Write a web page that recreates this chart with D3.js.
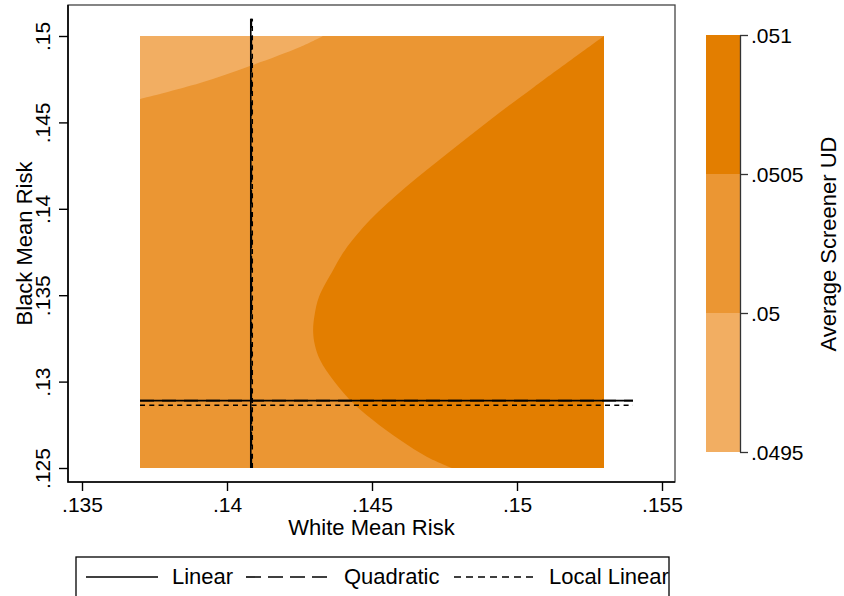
<!DOCTYPE html>
<html>
<head>
<meta charset="utf-8">
<script src="https://cdn.jsdelivr.net/npm/d3@7"></script>
<style>
  html, body { margin: 0; padding: 0; background: #fff; }
  svg { display: block; font-family: "Liberation Sans", Arial, sans-serif; }
</style>
</head>
<body>
<svg id="chart" width="844" height="596"></svg>
<script>
// ---------------- data ----------------
const xTicks = [0.135, 0.14, 0.145, 0.15, 0.155];
const yTicks = [0.125, 0.13, 0.135, 0.14, 0.145, 0.15];
const levelTicks = [0.0495, 0.05, 0.0505, 0.051];
const levelColors = ["#F2AE62", "#EB9633", "#E37E00"];   // .0495-.05, .05-.0505, .0505-.051

// grid extent of the contour surface
const gridWhite = [0.137, 0.153];
const gridBlack = [0.125, 0.15];

// contour boundary .05 (light / middle) [white, black]
const boundary050 = [
  [0.13700, 0.14635], [0.13907, 0.14728], [0.14079, 0.14826],
  [0.14252, 0.14936], [0.14331, 0.15000]
];
// contour boundary .0505 (middle / dark) [white, black]
const boundary0505 = [
  [0.15300, 0.15000], [0.15059, 0.14705], [0.14907, 0.14514],
  [0.14762, 0.14323], [0.14617, 0.14126], [0.14493, 0.13935],
  [0.14407, 0.13762], [0.14366, 0.13646], [0.14317, 0.13490],
  [0.14302, 0.13385], [0.14297, 0.13293], [0.14303, 0.13212],
  [0.14321, 0.13125], [0.14366, 0.13009], [0.14424, 0.12894],
  [0.14503, 0.12778], [0.14597, 0.12662], [0.14690, 0.12564],
  [0.14776, 0.12500]
];

// threshold lines
const lineNames = ["Linear", "Quadratic", "Local Linear"];
const lineWhite = [0.14082, 0.14084, 0.14087];
const lineBlack = [0.12890, 0.12890, 0.12863];
const vertExtent = [0.125, 0.151];
const horzExtent = [0.137, 0.154];
const lineDash = [null, "14,8", "5,4.3"];
const legendDash = [null, "15,7", "7,5"];

// ---------------- chart ----------------
const svg = d3.select("#chart");
const x = d3.scaleLinear().domain([0.135, 0.155]).range([82, 662]);
const y = d3.scaleLinear().domain([0.125, 0.15]).range([468, 36]);
const cz = d3.scaleLinear().domain([0.0495, 0.051]).range([452, 35]);
const fmt = v => String(+v.toFixed(5)).replace(/^0\./, ".");

const frame = { l: 68, t: 5, r: 675, b: 482 };

// contour fills
const plot = svg.append("g");
plot.append("rect")
  .attr("x", x(gridWhite[0])).attr("y", y(gridBlack[1]))
  .attr("width", x(gridWhite[1]) - x(gridWhite[0]))
  .attr("height", y(gridBlack[0]) - y(gridBlack[1]))
  .attr("fill", levelColors[1]);

const curveLine = d3.line().x(d => x(d[0])).y(d => y(d[1])).curve(d3.curveCatmullRom.alpha(0.5));

// light region: top-left corner + smooth boundary
const lightPath = `M${x(gridWhite[0])},${y(gridBlack[1])}L` +
  curveLine(boundary050).slice(1) + "Z";
plot.append("path").attr("d", lightPath).attr("fill", levelColors[0]);

// dark region: smooth boundary + bottom-right corner
const darkPath = curveLine(boundary0505) +
  `L${x(gridWhite[1])},${y(gridBlack[0])}Z`;
plot.append("path").attr("d", darkPath).attr("fill", levelColors[2]);

// threshold lines
lineNames.forEach((n, i) => {
  const g = plot.append("g")
    .attr("stroke", "#000").attr("stroke-width", 1.6).attr("fill", "none");
  if (lineDash[i]) g.attr("stroke-dasharray", lineDash[i]);
  g.append("line")
    .attr("x1", x(lineWhite[i])).attr("x2", x(lineWhite[i]))
    .attr("y1", y(vertExtent[0])).attr("y2", y(vertExtent[1]));
  g.append("line")
    .attr("x1", x(horzExtent[0])).attr("x2", x(horzExtent[1]))
    .attr("y1", y(lineBlack[i])).attr("y2", y(lineBlack[i]));
});

// frame
svg.append("rect")
  .attr("x", frame.l).attr("y", frame.t)
  .attr("width", frame.r - frame.l).attr("height", frame.b - frame.t)
  .attr("fill", "none").attr("stroke", "#444").attr("stroke-width", 1.3);
svg.append("path")
  .attr("d", `M${frame.l},${frame.t}V${frame.b}H${frame.r}`)
  .attr("fill", "none").attr("stroke", "#000").attr("stroke-width", 1.6);

// x axis
const xAxis = svg.append("g").attr("transform", `translate(0,${frame.b})`)
  .call(d3.axisBottom(x).tickValues(xTicks).tickFormat(fmt).tickSize(9).tickSizeOuter(0));
xAxis.select(".domain").remove();
xAxis.selectAll(".tick line").attr("stroke", "#000").attr("stroke-width", 1.4);
xAxis.selectAll(".tick text")
  .attr("y", 0).attr("dy", null)
  .attr("transform", "translate(0,29.5)")
  .attr("font-size", 21).attr("font-family", "Liberation Sans, Arial, sans-serif")
  .attr("fill", "#000");

// y axis
const yAxis = svg.append("g").attr("transform", `translate(${frame.l},0)`)
  .call(d3.axisLeft(y).tickValues(yTicks).tickFormat(fmt).tickSize(9).tickSizeOuter(0));
yAxis.select(".domain").remove();
yAxis.selectAll(".tick line").attr("stroke", "#000").attr("stroke-width", 1.4);
yAxis.selectAll(".tick text")
  .attr("x", 0).attr("dy", null)
  .attr("text-anchor", "middle")
  .attr("transform", "translate(-18,0) rotate(-90)")
  .attr("font-size", 21).attr("font-family", "Liberation Sans, Arial, sans-serif")
  .attr("fill", "#000");

// axis titles
svg.append("text")
  .attr("x", (frame.l + frame.r) / 2).attr("y", 535)
  .attr("text-anchor", "middle").attr("font-size", 22).attr("fill", "#000")
  .text("White Mean Risk");
svg.append("text")
  .attr("transform", `translate(31.5,${(frame.t + frame.b) / 2}) rotate(-90)`)
  .attr("text-anchor", "middle").attr("font-size", 22).attr("fill", "#000")
  .text("Black Mean Risk");

// colour bar
const cb = svg.append("g");
levelColors.forEach((c, i) => {
  cb.append("rect")
    .attr("x", 706).attr("width", 34)
    .attr("y", cz(levelTicks[i + 1])).attr("height", cz(levelTicks[i]) - cz(levelTicks[i + 1]))
    .attr("fill", c);
});
const cAxis = cb.append("g").attr("transform", "translate(740,0)")
  .call(d3.axisRight(cz).tickValues(levelTicks).tickFormat(fmt).tickSize(8).tickSizeOuter(0));
cAxis.select(".domain").attr("stroke", "#333").attr("stroke-width", 1.3);
cAxis.selectAll(".tick line").attr("stroke", "#333").attr("stroke-width", 1.3);
cAxis.selectAll(".tick text")
  .attr("x", 11).attr("dy", "0.35em")
  .attr("font-size", 21).attr("font-family", "Liberation Sans, Arial, sans-serif")
  .attr("fill", "#000");
svg.append("text")
  .attr("transform", `translate(836,244) rotate(-90)`)
  .attr("text-anchor", "middle").attr("font-size", 22).attr("fill", "#000")
  .text("Average Screener UD");

// legend
const lg = svg.append("g");
lg.append("rect")
  .attr("x", 76).attr("y", 557).attr("width", 593).attr("height", 60)
  .attr("fill", "#fff").attr("stroke", "#000").attr("stroke-width", 1.3);
const legendLineX = [86, 246, 454];
const legendLineW = [72, 88, 84];
const legendTextX = [172, 344, 549];
lineNames.forEach((n, i) => {
  const l = lg.append("line")
    .attr("x1", legendLineX[i]).attr("x2", legendLineX[i] + legendLineW[i])
    .attr("y1", 577).attr("y2", 577)
    .attr("stroke", "#000").attr("stroke-width", 1.6);
  if (legendDash[i]) l.attr("stroke-dasharray", legendDash[i]);
  lg.append("text")
    .attr("x", legendTextX[i]).attr("y", 584)
    .attr("font-size", 22).attr("fill", "#000")
    .text(n);
});
</script>
</body>
</html>
